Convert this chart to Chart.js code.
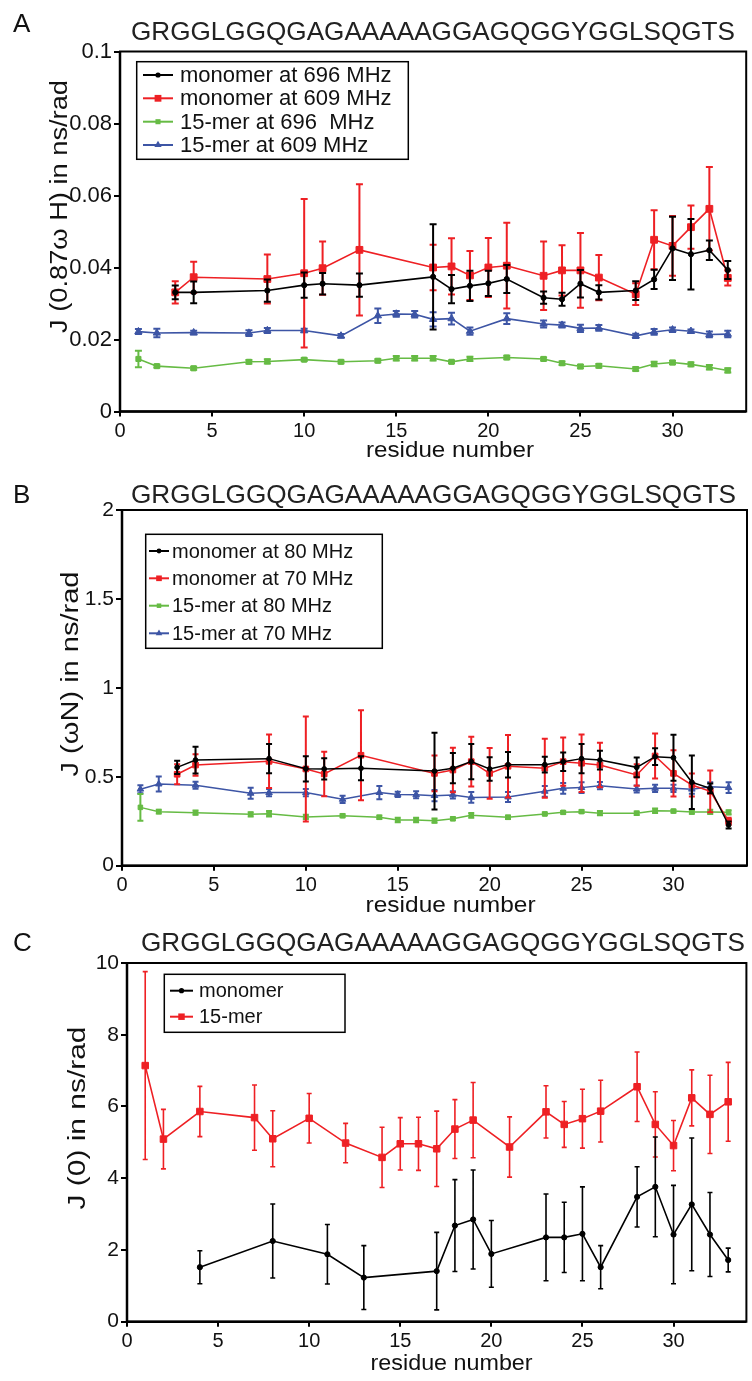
<!DOCTYPE html>
<html><head><meta charset="utf-8">
<script src="https://cdn.jsdelivr.net/npm/chart.js@4.4.1/dist/chart.umd.min.js"></script>
<style>
html,body{margin:0;padding:0;background:#fff;}
#wrap{position:relative;width:752px;height:1381px;overflow:hidden;background:#fff;}
.pn{position:absolute;left:0;width:752px;}
canvas{display:block;}
</style></head><body>
<div id="wrap">
<div class="pn" style="top:0;height:470px"><canvas id="cA" width="752" height="470"></canvas></div>
<div class="pn" style="top:460px;height:470px"><canvas id="cB" width="752" height="470"></canvas></div>
<div class="pn" style="top:910px;height:471px"><canvas id="cC" width="752" height="471"></canvas></div>
</div>
<script>
// ---------- data ----------
const sequence = "GRGGLGGQGAGAAAAAGGAGQGGYGGLSQGTS";
const xTicks = [0, 5, 10, 15, 20, 25, 30];
const xTickLabels = ["0", "5", "10", "15", "20", "25", "30"];

const resMono = [3,4,8,10,11,13,17,18,19,20,21,23,24,25,26,28,29,30,31,32,33];
const res15 = [1,2,4,7,8,10,12,14,15,16,17,18,19,21,23,24,25,26,28,29,30,31,32,33];
const resMonoC = [4,8,11,13,17,18,19,20,23,24,25,26,28,29,30,31,32,33];

// Panel A: J(0.87 wH)
const aYTicks = [0, 0.02, 0.04, 0.06, 0.08, 0.1];
const aYTickLabels = ["0", "0.02", "0.04", "0.06", "0.08", "0.1"];
const aMono696 = [0.0331,0.0331,0.0336,0.0351,0.0355,0.0351,0.0374,0.0340,0.0349,0.0356,0.0368,0.0316,0.0312,0.0355,0.0331,0.0336,0.0367,0.0453,0.0437,0.0448,0.0393];
const aMono696Err = [0.0019,0.0030,0.0031,0.0035,0.0030,0.0032,0.0146,0.0039,0.0042,0.0035,0.0039,0.0017,0.0018,0.0038,0.0020,0.0026,0.0027,0.0088,0.0098,0.0027,0.0025];
const aMono609 = [0.0331,0.0373,0.0368,0.0384,0.0398,0.0449,0.0400,0.0403,0.0378,0.0400,0.0405,0.0377,0.0392,0.0392,0.0372,0.0326,0.0477,0.0460,0.0512,0.0563,0.0371];
const aMono609Err = [0.0031,0.0043,0.0068,0.0206,0.0074,0.0182,0.0063,0.0078,0.0068,0.0082,0.0119,0.0095,0.0070,0.0104,0.0063,0.0030,0.0082,0.0083,0.0060,0.0116,0.0021];
const a15mer696 = [0.0146,0.0126,0.0120,0.0138,0.0139,0.0144,0.0138,0.0141,0.0148,0.0148,0.0148,0.0138,0.0146,0.0150,0.0146,0.0134,0.0125,0.0127,0.0118,0.0132,0.0136,0.0131,0.0123,0.0114];
const a15mer696Err = [0.0023,0.0004,0.0004,0.0005,0.0006,0.0004,0.0004,0.0004,0.0006,0.0006,0.0006,0.0004,0.0006,0.0005,0.0004,0.0005,0.0005,0.0005,0.0005,0.0006,0.0005,0.0005,0.0006,0.0006];
const a15mer609 = [0.0222,0.0218,0.0219,0.0218,0.0225,0.0225,0.0210,0.0266,0.0271,0.0270,0.0256,0.0258,0.0223,0.0258,0.0243,0.0240,0.0231,0.0232,0.0210,0.0221,0.0227,0.0223,0.0214,0.0215];
const a15mer609Err = [0.0007,0.0012,0.0005,0.0008,0.0007,0.0005,0.0005,0.0020,0.0008,0.0009,0.0020,0.0016,0.0010,0.0015,0.0010,0.0007,0.0010,0.0008,0.0006,0.0008,0.0006,0.0005,0.0008,0.0009];

// Panel B: J(wN)
const bYTicks = [0, 0.5, 1, 1.5, 2];
const bYTickLabels = ["0", "0.5", "1", "1.5", "2"];
const bMono80 = [0.553,0.594,0.602,0.545,0.544,0.548,0.532,0.548,0.585,0.544,0.568,0.568,0.585,0.602,0.594,0.553,0.613,0.607,0.469,0.435,0.229];
const bMono80Err = [0.037,0.075,0.082,0.071,0.060,0.068,0.216,0.085,0.099,0.066,0.072,0.044,0.052,0.082,0.053,0.055,0.047,0.129,0.150,0.027,0.020];
const bMono70 = [0.514,0.566,0.587,0.544,0.516,0.621,0.519,0.538,0.585,0.519,0.559,0.548,0.585,0.576,0.566,0.510,0.617,0.519,0.454,0.418,0.250];
const bMono70Err = [0.056,0.060,0.150,0.295,0.125,0.253,0.100,0.125,0.140,0.143,0.176,0.166,0.136,0.162,0.125,0.060,0.127,0.130,0.065,0.117,0.020];
const b15mer80 = [0.328,0.304,0.298,0.289,0.292,0.274,0.281,0.272,0.257,0.257,0.253,0.264,0.283,0.272,0.291,0.300,0.304,0.295,0.295,0.309,0.307,0.302,0.302,0.300];
const b15mer80Err = [0.075,0.010,0.012,0.012,0.015,0.012,0.008,0.010,0.013,0.013,0.012,0.008,0.013,0.010,0.008,0.008,0.008,0.012,0.010,0.012,0.008,0.010,0.012,0.012];
const b15mer70 = [0.430,0.459,0.452,0.407,0.411,0.411,0.373,0.411,0.401,0.399,0.394,0.398,0.384,0.386,0.418,0.435,0.439,0.450,0.431,0.435,0.435,0.430,0.444,0.439];
const b15mer70Err = [0.022,0.042,0.020,0.031,0.020,0.020,0.020,0.037,0.015,0.020,0.032,0.020,0.030,0.028,0.030,0.030,0.030,0.020,0.020,0.020,0.020,0.025,0.025,0.030];

// Panel C: J(0)
const cYTicks = [0, 2, 4, 6, 8, 10];
const cYTickLabels = ["0", "2", "4", "6", "8", "10"];
const cMono = [1.52,2.25,1.88,1.23,1.41,2.68,2.85,1.89,2.35,2.35,2.45,1.52,3.48,3.76,2.43,3.27,2.43,1.72];
const cMonoErr = [0.46,1.03,0.83,0.89,1.08,1.28,1.38,0.93,1.21,0.98,1.31,0.60,0.84,1.39,1.37,1.85,1.17,0.33];
const c15mer = [7.14,5.09,5.86,5.69,5.10,5.67,4.98,4.58,4.96,4.96,4.82,5.37,5.62,4.87,5.85,5.50,5.66,5.87,6.55,5.50,4.91,6.24,5.78,6.13];
const c15merErr = [2.62,0.83,0.70,0.91,0.78,0.69,0.55,0.84,0.73,0.74,1.05,0.82,1.05,0.84,0.73,0.64,0.82,0.86,0.97,0.91,0.70,0.78,1.09,1.10];

// ---------- styling ----------
const FONT = '"Liberation Sans", Arial, Helvetica, sans-serif';
const BLACK = '#000000', RED = '#ee2024', GREEN = '#66bb44', BLUE = '#3d55a5';

function pts(xs, ys) { return xs.map((x, i) => ({ x: x, y: ys[i] })); }

function drawMarker(ctx, style, r, x, y, color) {
  ctx.save();
  ctx.fillStyle = color; ctx.strokeStyle = color; ctx.lineWidth = 1;
  ctx.beginPath();
  if (style === 'circle') { ctx.arc(x, y, r, 0, Math.PI * 2); }
  else if (style === 'rect') { const s = r * Math.SQRT1_2; ctx.rect(x - s, y - s, 2 * s, 2 * s); }
  else if (style === 'rectRot') { ctx.moveTo(x, y - r); ctx.lineTo(x + r, y); ctx.lineTo(x, y + r); ctx.lineTo(x - r, y); ctx.closePath(); }
  else if (style === 'triangle') { ctx.moveTo(x, y - r); ctx.lineTo(x + r * 0.866, y + r * 0.5); ctx.lineTo(x - r * 0.866, y + r * 0.5); ctx.closePath(); }
  ctx.fill();
  ctx.restore();
}

function makeDecor(cfg) {
  return {
    id: 'decor',
    beforeDatasetsDraw(chart) {
      const ctx = chart.ctx, a = chart.chartArea;
      ctx.save();
      ctx.strokeStyle = '#000';
      ctx.lineWidth = 2;
      ctx.strokeRect(a.left, a.top, a.right - a.left, a.bottom - a.top);
      ctx.lineWidth = 2.5;
      ctx.beginPath();
      ctx.moveTo(a.left, a.top); ctx.lineTo(a.left, a.bottom); ctx.lineTo(a.right, a.bottom);
      ctx.stroke();
      ctx.restore();
    },
    beforeDatasetDraw(chart, args) {
      const ds = chart.data.datasets[args.index];
      if (!ds.err) return;
      const ctx = chart.ctx, xs = chart.scales.x, ys = chart.scales.y;
      const c = cfg.cap;
      ctx.save();
      ctx.strokeStyle = ds.borderColor;
      ctx.lineWidth = cfg.errW;
      ctx.beginPath();
      ds.data.forEach((p, i) => {
        const e = ds.err[i];
        const px = xs.getPixelForValue(p.x);
        const t = ys.getPixelForValue(p.y + e), b = ys.getPixelForValue(p.y - e);
        ctx.moveTo(px, t); ctx.lineTo(px, b);
        ctx.moveTo(px - c, t); ctx.lineTo(px + c, t);
        ctx.moveTo(px - c, b); ctx.lineTo(px + c, b);
      });
      ctx.stroke();
      ctx.restore();
    },
    afterDraw(chart) {
      const ctx = chart.ctx;
      ctx.save();
      // panel letter
      ctx.fillStyle = '#111';
      ctx.font = '26px ' + FONT;
      ctx.textBaseline = 'middle'; ctx.textAlign = 'left';
      ctx.fillText(cfg.letter, cfg.letterPos[0], cfg.letterPos[1]);
      // sequence
      ctx.save();
      ctx.font = '26px ' + FONT;
      const sw = ctx.measureText(sequence).width;
      ctx.translate(cfg.seq[0], cfg.seq[1]);
      ctx.scale(cfg.seq[2] / sw, 1);
      ctx.fillStyle = '#222';
      ctx.fillText(sequence, 0, 0);
      ctx.restore();
      // y title
      ctx.save();
      ctx.font = '23px ' + FONT;
      const yw = ctx.measureText(cfg.yTitle).width;
      ctx.translate(cfg.yT[0], cfg.yT[1]);
      ctx.rotate(-Math.PI / 2);
      ctx.scale(cfg.yT[2] / yw, 1);
      ctx.textAlign = 'center';
      ctx.fillStyle = '#111';
      ctx.fillText(cfg.yTitle, 0, 0);
      ctx.restore();
      // x title
      ctx.save();
      ctx.font = '22px ' + FONT;
      const xw = ctx.measureText('residue number').width;
      ctx.translate(cfg.xT[0], cfg.xT[1]);
      ctx.scale(cfg.xT[2] / xw, 1);
      ctx.textAlign = 'center';
      ctx.fillStyle = '#111';
      ctx.fillText('residue number', 0, 0);
      ctx.restore();
      // legend
      const L = cfg.legend;
      ctx.save();
      ctx.fillStyle = '#fff';
      ctx.fillRect(L.box[0], L.box[1], L.box[2] - L.box[0], L.box[3] - L.box[1]);
      ctx.strokeStyle = '#000'; ctx.lineWidth = 1.5;
      ctx.strokeRect(L.box[0], L.box[1], L.box[2] - L.box[0], L.box[3] - L.box[1]);
      chart.data.datasets.forEach((ds, i) => {
        const y = L.ys[i];
        ctx.strokeStyle = ds.borderColor; ctx.lineWidth = 2;
        ctx.beginPath(); ctx.moveTo(L.line[0], y); ctx.lineTo(L.line[1], y); ctx.stroke();
        drawMarker(ctx, ds.pointStyle, ds.pointRadius, (L.line[0] + L.line[1]) / 2, y, ds.borderColor);
        ctx.fillStyle = '#111';
        ctx.font = L.font + 'px ' + FONT;
        ctx.textBaseline = 'middle'; ctx.textAlign = 'left';
        ctx.fillText(ds.label, L.textX, y + 1);
      });
      ctx.restore();
      ctx.restore();
    }
  };
}

function makeChart(id, cfg) {
  const H = cfg.height;
  new Chart(document.getElementById(id), {
    type: 'scatter',
    data: { datasets: cfg.datasets },
    options: {
      responsive: false,
      animation: false,
      devicePixelRatio: 1,
      layout: { padding: { left: 0, right: 752 - cfg.area[1], top: cfg.area[2], bottom: 0 } },
      plugins: { legend: { display: false }, tooltip: { enabled: false }, title: { display: false } },
      elements: { line: { tension: 0 } },
      scales: {
        x: {
          type: 'linear', min: 0, max: 34,
          afterFit: s => { s.height = H - cfg.area[3]; },
          afterBuildTicks: s => { s.ticks = xTicks.map(v => ({ value: v })); },
          grid: { display: true, drawOnChartArea: false, drawTicks: true, tickLength: 5, color: '#000', lineWidth: 2 },
          border: { display: false },
          ticks: {
            color: '#111', padding: 3, maxRotation: 0, autoSkip: false,
            font: { family: FONT, size: 20 },
            callback: (v) => { const k = xTicks.indexOf(v); return k >= 0 ? xTickLabels[k] : ''; }
          }
        },
        y: {
          type: 'linear', min: cfg.yTicks[0], max: cfg.yTicks[cfg.yTicks.length - 1],
          afterFit: s => { s.width = cfg.area[0]; },
          afterBuildTicks: s => { s.ticks = cfg.yTicks.map(v => ({ value: v })); },
          grid: { display: true, drawOnChartArea: false, drawTicks: true, tickLength: 6, color: '#000', lineWidth: 2 },
          border: { display: false },
          ticks: {
            color: '#111', padding: 2, autoSkip: false,
            font: { family: FONT, size: cfg.yFont },
            callback: (v) => { const k = cfg.yTicks.indexOf(v); return k >= 0 ? cfg.yTickLabels[k] : ''; }
          }
        }
      }
    },
    plugins: [makeDecor(cfg)]
  });
}

function ds(label, xs, ys, err, color, style, r, lw) {
  return {
    label: label, data: pts(xs, ys), err: err, showLine: true,
    borderColor: color, backgroundColor: color, borderWidth: lw,
    pointStyle: style, pointRadius: r, pointHoverRadius: r, pointBorderWidth: 1,
    pointBackgroundColor: color, pointBorderColor: color, fill: false
  };
}

makeChart('cA', {
  height: 470, area: [120, 748, 51.5, 411.5],
  yTicks: aYTicks, yTickLabels: aYTickLabels, yFont: 22,
  cap: 3.5, errW: 2,
  letter: 'A', letterPos: [13, 25], seq: [131, 33, 604],
  yTitle: 'J (0.87\u03c9 H) in ns/rad', yT: [61, 206.5, 253],
  xT: [450, 451, 168],
  legend: { box: [136.7, 61.7, 408.3, 159.3], ys: [75, 98.3, 121.7, 145], line: [143, 173], textX: 180, font: 22 },
  datasets: [
    ds('monomer at 696 MHz', resMono, aMono696, aMono696Err, BLACK, 'circle', 2.6, 1.6),
    ds('monomer at 609 MHz', resMono, aMono609, aMono609Err, RED, 'rect', 4.8, 1.6),
    ds('15-mer at 696  MHz', res15, a15mer696, a15mer696Err, GREEN, 'rect', 3.6, 1.6),
    ds('15-mer at 609 MHz', res15, a15mer609, a15mer609Err, BLUE, 'triangle', 4.2, 1.6)
  ]
});

makeChart('cB', {
  height: 470, area: [122, 748, 50, 405.7],
  yTicks: bYTicks, yTickLabels: bYTickLabels, yFont: 21,
  cap: 3, errW: 2,
  letter: 'B', letterPos: [13, 36], seq: [131, 36, 605],
  yTitle: 'J (\u03c9N) in ns/rad', yT: [71.7, 214, 205],
  xT: [450.6, 446, 170],
  legend: { box: [145.7, 74.3, 382.3, 188.3], ys: [91, 118.3, 145.7, 173.3], line: [149, 169], textX: 172, font: 20 },
  datasets: [
    ds('monomer at 80 MHz', resMono, bMono80, bMono80Err, BLACK, 'circle', 2.4, 1.5),
    ds('monomer at 70 MHz', resMono, bMono70, bMono70Err, RED, 'rect', 4, 1.5),
    ds('15-mer at 80 MHz', res15, b15mer80, b15mer80Err, GREEN, 'rect', 3.2, 1.5),
    ds('15-mer at 70 MHz', res15, b15mer70, b15mer70Err, BLUE, 'triangle', 3.8, 1.5)
  ]
});

makeChart('cC', {
  height: 471, area: [127, 748, 53, 411.7],
  yTicks: cYTicks, yTickLabels: cYTickLabels, yFont: 21,
  cap: 2.5, errW: 1.6,
  letter: 'C', letterPos: [13, 34], seq: [141, 34, 604],
  yTitle: 'J (0) in ns/rad', yT: [79, 208, 183],
  xT: [451.6, 454, 162],
  legend: { box: [164.3, 64.3, 345, 122.3], ys: [80.7, 106.7], line: [170, 193], textX: 199, font: 20 },
  datasets: [
    ds('monomer', resMonoC, cMono, cMonoErr, BLACK, 'circle', 2.6, 1.6),
    ds('15-mer', res15, c15mer, c15merErr, RED, 'rect', 4.6, 1.6)
  ]
});
</script>
</body></html>
